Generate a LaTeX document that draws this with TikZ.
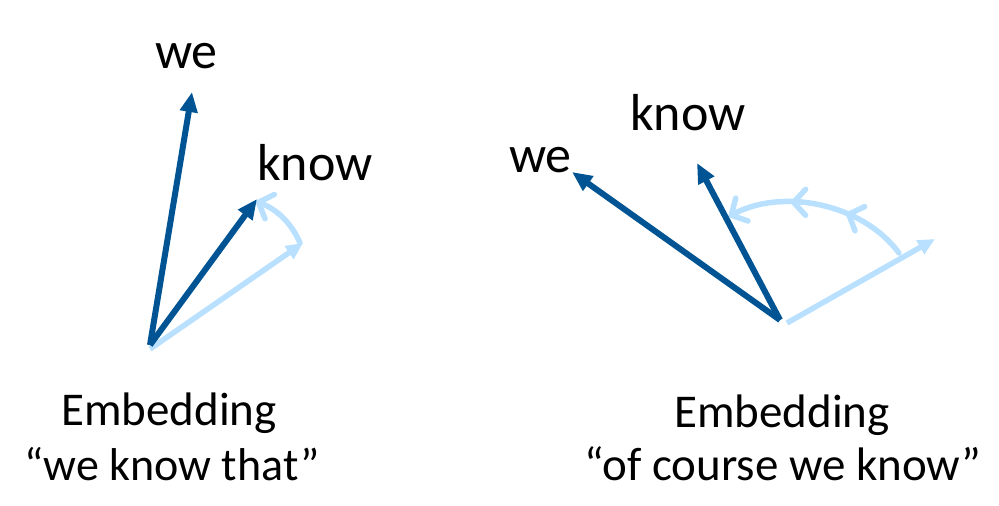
\documentclass[tikz,border=0pt]{standalone}
\usepackage{fontspec}
\setmainfont{Carlito}
\usetikzlibrary{arrows.meta,decorations.markings}
\definecolor{darkb}{RGB}{0,84,147}
\definecolor{lightb}{RGB}{185,224,255}
\tikzset{
  darkvec/.style={draw=darkb, line width=6pt, -{Triangle[length=20pt,width=17pt]}},
  lightvec/.style={draw=lightb, line width=5.5pt, -{Triangle[length=17pt,width=15pt]}},
  rotarc/.style={draw=lightb, line width=5.5pt, line cap=round, -{Straight Barb[length=12pt,width=26pt,line cap=round]}},
  midbarbs/.style={postaction={decorate}, decoration={markings,
     mark=at position 0.36 with {\arrow[lightb,line width=5.5pt]{Straight Barb[length=12pt,width=26pt,line cap=round]}},
     mark=at position 0.66 with {\arrow[lightb,line width=5.5pt]{Straight Barb[length=12pt,width=26pt,line cap=round]}}}},
  wordlbl/.style={inner sep=0pt, font=\fontsize{52}{60}\selectfont, text=black},
  caplbl/.style={inner sep=0pt, font=\fontsize{47}{56}\selectfont, text=black}
}
\begin{document}
\begin{tikzpicture}[x=1pt,y=-1pt]
\useasboundingbox (0,0) rectangle (999,506);
% left diagram
\coordinate (O1) at (150,345);
\coordinate (O1l) at (150,349);
\coordinate (w1) at (192,92);
\coordinate (k1) at (257,199);
\coordinate (l1) at (303,243);
\coordinate (a1s) at (300,243);
\coordinate (a1e) at (255,201);
\draw[lightvec] (O1l) -- (l1);
\draw[rotarc] (a1s) .. controls (291,222) and (276,209) .. (a1e);
\draw[darkvec] (O1) -- (w1);
\draw[darkvec] (O1) -- (k1);
\node[wordlbl, anchor=base west] (we1) at (155,68) {we};
\node[wordlbl, anchor=base west] (know1) at (257,180) {know};
\node[caplbl, anchor=base] (emb1) at (169,425) {Embedding};
\node[caplbl, anchor=base, font=\fontsize{46}{56}\selectfont] (sen1) at (172,480) {“we know that”};
% right diagram
\coordinate (O2) at (780,320);
\coordinate (O2l) at (787,323);
\coordinate (w2) at (572,172);
\coordinate (k2) at (697,163);
\coordinate (l2) at (935,239);
\coordinate (a2s) at (899,253);
\coordinate (a2e) at (728,217);
\draw[lightvec] (O2l) -- (l2);
\draw[rotarc, midbarbs] (a2s) .. controls (862,203) and (782,188) .. (a2e);
\draw[darkvec] (O2) -- (w2);
\draw[darkvec] (O2) -- (k2);
\node[wordlbl, anchor=base west] (we2) at (509,172) {we};
\node[wordlbl, anchor=base west] (know2) at (630,130) {know};
\node[caplbl, anchor=base] (emb2) at (782,427) {Embedding};
\node[caplbl, anchor=base] (sen2) at (783,480) {“of course we know”};
\end{tikzpicture}
\end{document}
